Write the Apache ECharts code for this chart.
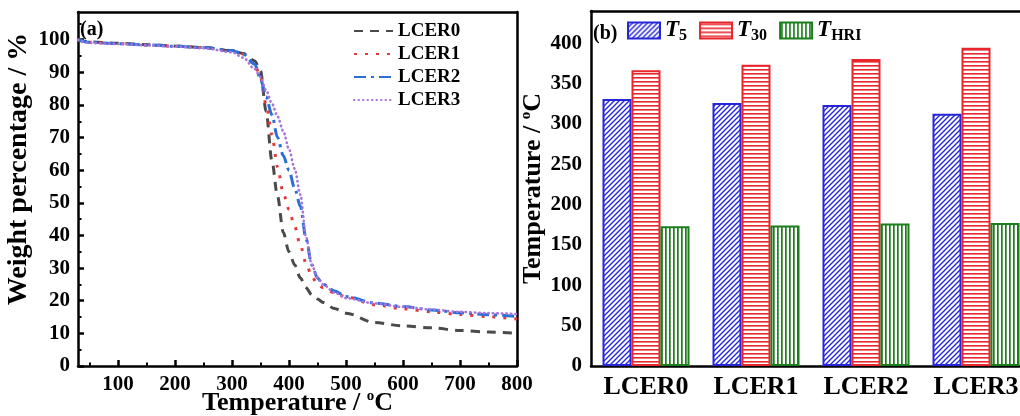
<!DOCTYPE html>
<html><head><meta charset="utf-8">
<script src="https://cdn.jsdelivr.net/npm/echarts@6/dist/echarts.min.js"></script>
<style>html,body{margin:0;padding:0;background:#fff}#c{width:1020px;height:416px}</style>
</head><body><div id="c"></div>
<script>
// ---------- Panel (a): TGA curves ----------
const temps = [30,50,100,150,200,250,300,320,340,350,360,370,380,390,400,410,420,430,440,450,460,480,500,550,600,650,700,750,800];
const lcer0 = [100,99.3,98.9,98.5,98.1,97.6,96.6,95.8,93.5,90.5,78,63,52,41,35,31,27,24,21.8,20.5,19.5,17.6,16.2,13.3,12.3,11.7,10.9,10.4,10.0];
const lcer1 = [100,99.2,98.8,98.4,98.0,97.6,96.7,95.6,92.5,88.5,80,71,61,53,48,42.8,37,31.5,27.5,25,24,22.4,21.2,18.8,17.5,16.6,15.8,15.1,14.4];
const lcer2 = [100,99.2,98.8,98.4,98.0,97.6,96.7,95.6,92.5,88,82.5,77,70,64.5,60,54.5,49,39,31,27,25,23,21.3,19.3,18.2,17.2,16.3,15.7,15.2];
const lcer3 = [100,99.0,98.7,98.3,97.9,97.4,96.2,94.5,91,88.6,84.5,80.5,76.5,72,66.5,60.5,52.5,39.5,31,27.2,25,22.5,20.8,19.2,18.1,17.3,16.6,16.2,15.9];
const curveNames = ['LCER0','LCER1','LCER2','LCER3'];
const xTicksA = [100,200,300,400,500,600,700,800];
const xMinorA = [50,150,250,350,450,550,650,750];
const yTicksA = [0,10,20,30,40,50,60,70,80,90,100];
const yMinorA = [5,15,25,35,45,55,65,75,85,95,105];

// ---------- Panel (b): characteristic temperatures ----------
const samples = ['LCER0','LCER1','LCER2','LCER3'];
const t5   = [331, 326, 323.5, 312.5];
const t30  = [366.5, 373.5, 380.5, 394.5];
const thri = [173.2, 174, 176.5, 177.3];
const barNames = ['T5','T30','THRI'];
const yTicksB = [0,50,100,150,200,250,300,350,400];
const yMinorB = [25,75,125,175,225,275,325,375,425];

const FONT = 'Liberation Serif';

function makePattern(color, kind) {
  const s = kind === 'diag' ? 5 : 4;
  const c = document.createElement('canvas');
  c.width = s; c.height = s;
  const g = c.getContext('2d');
  g.fillStyle = '#fff'; g.fillRect(0, 0, s, s);
  g.fillStyle = color; g.strokeStyle = color;
  if (kind === 'diag') {
    g.lineWidth = 1.4;
    g.beginPath();
    g.moveTo(-1, s + 1); g.lineTo(s + 1, -1);
    g.moveTo(-1, 1); g.lineTo(1, -1);
    g.moveTo(s - 1, s + 1); g.lineTo(s + 1, s - 1);
    g.stroke();
  } else if (kind === 'h') {
    g.fillRect(0, 1, s, 1.6);
  } else {
    g.fillRect(1, 0, 1.7, s);
  }
  return { image: c, repeat: 'repeat' };
}

const blue = '#2626d9', red = '#e8262c', green = '#1b7d1b';
const lineColors = ['#4a4a4a', '#e0393e', '#2a6fd6', '#a874dc'];
const lineDash = [[9, 7], [3, 8], [12, 5, 3, 5], [0.5, 4]];
const lineWidths = [3, 3, 3, 2.6];

const axisLine = { show: true, onZero: false, lineStyle: { color: '#000', width: 2.5 } };
const labelStyle = { fontFamily: FONT, fontWeight: 'bold', fontSize: 21, color: '#000' };

function lineOnly(gridIndex, position, type, min, max, data) {
  return { gridIndex, type, position, min, max, data,
    axisLine, axisTick: { show: false }, axisLabel: { show: false }, splitLine: { show: false } };
}
function minorAxis(gridIndex, position, min, max, values) {
  return { gridIndex, type: 'value', position, min, max,
    axisLine: { show: false }, splitLine: { show: false }, axisLabel: { show: false },
    axisTick: { inside: true, length: 3.5, customValues: values, lineStyle: { color: '#000', width: 2 } } };
}

const subRich = {
  t: { fontFamily: FONT, fontStyle: 'italic', fontWeight: 'bold', fontSize: 23, lineHeight: 26, color: '#000' },
  s: { fontFamily: FONT, fontWeight: 'bold', fontSize: 16, lineHeight: 12, verticalAlign: 'bottom', color: '#000' }
};
const legendLabel = { T5: '{t|T}{s|5}', T30: '{t|T}{s|30}', THRI: '{t|T}{s|HRI}' };

const supRich = { sup: { fontFamily: FONT, fontWeight: 'bold', fontSize: 15, lineHeight: 12, verticalAlign: 'top', color: '#000' } };

const option = {
  backgroundColor: '#fff',
  animation: false,
  title: [
    { text: '(a)', left: 80, top: 20, padding: 0, textStyle: { fontFamily: FONT, fontWeight: 'bold', fontSize: 20, color: '#000' } },
    { text: '(b)', left: 593, top: 24, padding: 0, textStyle: { fontFamily: FONT, fontWeight: 'bold', fontSize: 20, color: '#000' } }
  ],
  grid: [
    { left: 78, top: 12, width: 439, height: 354, outerBoundsMode: 'none', containLabel: false },
    { left: 591, top: 11, width: 440, height: 355, outerBoundsMode: 'none', containLabel: false }
  ],
  legend: [
    { data: curveNames, orient: 'vertical', left: 353, top: 20, padding: 0, itemWidth: 39, itemHeight: 14, itemGap: 1,
      itemStyle: { opacity: 0 },
      textStyle: { fontFamily: FONT, fontWeight: 'bold', fontSize: 19, lineHeight: 22, color: '#000' } },
    { data: barNames, orient: 'horizontal', left: 627, top: 19, padding: 0, itemWidth: 32, itemHeight: 16, itemGap: 12, icon: 'rect',
      formatter: n => legendLabel[n],
      textStyle: { color: '#000', rich: subRich } }
  ],
  xAxis: [
    { gridIndex: 0, type: 'value', min: 30, max: 800, position: 'bottom',
      axisLine, splitLine: { show: false },
      axisTick: { inside: true, length: 6, customValues: xTicksA, lineStyle: { color: '#000', width: 2.5 } },
      axisLabel: { customValues: xTicksA, margin: 8, ...labelStyle },
      name: 'Temperature / {sup|o}C', nameLocation: 'middle', nameGap: 23, nameMoveOverlap: false,
      nameTextStyle: { fontFamily: FONT, fontWeight: 'bold', fontSize: 26, lineHeight: 28, color: '#000', rich: supRich } },
    lineOnly(0, 'top', 'value', 30, 800),
    minorAxis(0, 'bottom', 30, 800, xMinorA),
    { gridIndex: 1, type: 'category', data: samples, position: 'bottom',
      axisLine, axisTick: { show: false },
      axisLabel: { interval: 0, margin: 8, fontFamily: FONT, fontWeight: 'bold', fontSize: 26, color: '#000' } },
    lineOnly(1, 'top', 'category', null, null, samples)
  ],
  yAxis: [
    { gridIndex: 0, type: 'value', min: 0, max: 108.5, position: 'left',
      axisLine, splitLine: { show: false },
      axisTick: { inside: true, length: 6, customValues: yTicksA, lineStyle: { color: '#000', width: 2.5 } },
      axisLabel: { customValues: yTicksA, margin: 8, ...labelStyle },
      name: 'Weight percentage / %', nameLocation: 'middle', nameGap: 45, nameMoveOverlap: false,
      nameTextStyle: { fontFamily: FONT, fontWeight: 'bold', fontSize: 28, color: '#000', padding: [0, 0, 0, 40] } },
    lineOnly(0, 'right', 'value', 0, 108.5),
    minorAxis(0, 'left', 0, 108.5, yMinorA),
    { gridIndex: 1, type: 'value', min: 0, max: 440, position: 'left',
      axisLine, splitLine: { show: false },
      axisTick: { inside: true, length: 6, customValues: yTicksB, lineStyle: { color: '#000', width: 2.5 } },
      axisLabel: { customValues: yTicksB, margin: 9, ...labelStyle },
      name: 'Temperature / {sup|o}C', nameLocation: 'middle', nameGap: 44, nameMoveOverlap: false,
      nameTextStyle: { fontFamily: FONT, fontWeight: 'bold', fontSize: 26, lineHeight: 28, color: '#000', rich: supRich } },
    lineOnly(1, 'right', 'value', 0, 440),
    minorAxis(1, 'left', 0, 440, yMinorB)
  ],
  series: [
    ...[lcer0, lcer1, lcer2, lcer3].map((w, k) => ({
      name: curveNames[k], type: 'line', xAxisIndex: 0, yAxisIndex: 0,
      data: temps.map((t, i) => [t, w[i]]),
      symbol: 'none', smooth: 0.3, smoothMonotone: 'x', clip: true,
      lineStyle: { color: lineColors[k], width: lineWidths[k], type: lineDash[k], cap: k === 3 ? 'round' : 'butt' },
      itemStyle: { color: lineColors[k] }
    })),
    { name: 'T5', type: 'bar', xAxisIndex: 3, yAxisIndex: 3, data: t5, barWidth: 29, barGap: '0%',
      itemStyle: { color: makePattern(blue, 'diag'), borderColor: blue, borderWidth: 2 } },
    { name: 'T30', type: 'bar', xAxisIndex: 3, yAxisIndex: 3, data: t30, barWidth: 29, barGap: '0%',
      itemStyle: { color: makePattern(red, 'h'), borderColor: red, borderWidth: 2 } },
    { name: 'THRI', type: 'bar', xAxisIndex: 3, yAxisIndex: 3, data: thri, barWidth: 29, barGap: '0%',
      itemStyle: { color: makePattern(green, 'v'), borderColor: green, borderWidth: 2 } }
  ]
};
const chart = echarts.init(document.getElementById('c'), null, { renderer: 'canvas' });
chart.setOption(option);
</script></body></html>
